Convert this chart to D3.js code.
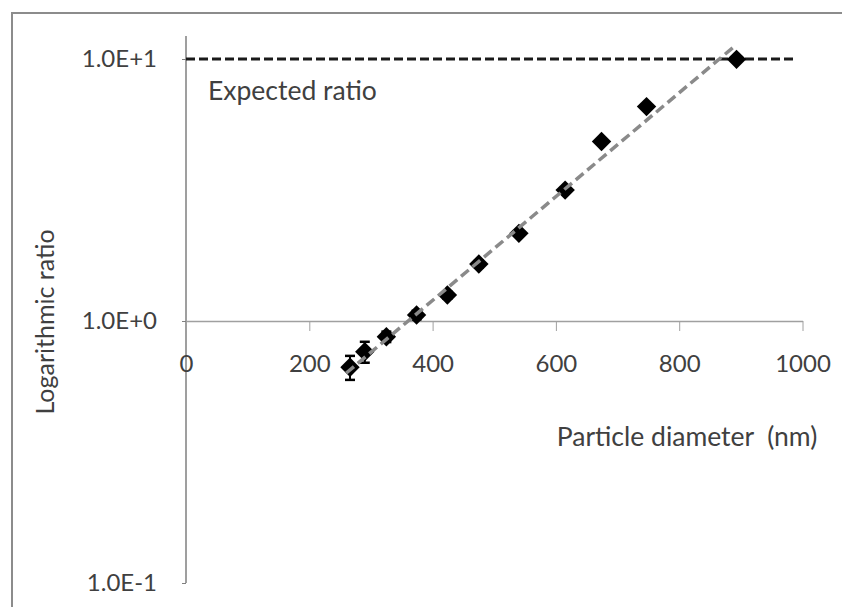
<!DOCTYPE html>
<html>
<head>
<meta charset="utf-8">
<script src="https://cdn.jsdelivr.net/npm/d3@7"></script>
<style>
  body { margin: 0; background: #fff; }
  text { font-family: Lato, "Open Sans", sans-serif; fill: #404040; }
</style>
</head>
<body>
<script>
// measured points (particle diameter in nm, ratio)
var diameters = [266, 290, 325, 374, 424, 475, 540, 615, 674, 747, 893];
var ratios = [0.666, 0.763, 0.871, 1.054, 1.256, 1.65, 2.16, 3.16, 4.84, 6.58, 9.97];
var errors = [0.07, 0.07, 0.04, 0.04, 0.04, 0.05, 0.05, 0.05, 0.05, 0.05, 0.05];

// exponential trend line, end points (straight on a log axis)
var trendX = [260, 888];
var trendY = [0.633, 11.1];

var expectedRatio = 10;
var xTicks = [0, 200, 400, 600, 800, 1000];
var yTicks = [0.1, 1, 10];

var width = 842;
var height = 607;

var svg = d3.select('body')
  .append('svg')
  .attr('width', width)
  .attr('height', height);

//chart frame, runs off the right and bottom edge like the original
svg.append('rect')
  .attr('x', 12)
  .attr('y', 13)
  .attr('width', width)
  .attr('height', height)
  .attr('fill', 'none')
  .attr('stroke', '#8c8c8c')
  .attr('stroke-width', 2);

var x = d3.scaleLinear()
  .domain([0, 1000])
  .range([186, 802.5]);

var y = d3.scaleLog()
  .domain([0.1, 10])
  .range([583, 59]);

var plotTop = 36;

//y axis
var yAxis = svg.append('g')
  .attr('transform', 'translate(' + x(0) + ',0)')
  .call(d3.axisLeft(y)
    .tickValues(yTicks)
    .tickSize(4)
    .tickSizeOuter(0)
    .tickPadding(25)
    .tickFormat(function(d) { return d.toExponential(1).toUpperCase(); }));
yAxis.select('.domain').remove();
yAxis.append('line')
  .attr('y1', plotTop)
  .attr('y2', y(0.1))
  .attr('stroke', '#7f7f7f')
  .attr('stroke-width', 1.5);
yAxis.selectAll('.tick line').attr('stroke', '#7f7f7f');
yAxis.selectAll('text')
  .style('font-size', '24px')
  .attr('fill', '#404040');

//x axis crosses at ratio 1
var xAxis = svg.append('g')
  .attr('transform', 'translate(0,' + y(1) + ')')
  .call(d3.axisBottom(x)
    .tickValues(xTicks)
    .tickSize(10)
    .tickSizeOuter(0)
    .tickPadding(24)
    .tickFormat(d3.format('d')));
xAxis.select('.domain').attr('stroke', '#a0a0a0').attr('stroke-width', 1.5);
xAxis.selectAll('.tick line').attr('stroke', '#a0a0a0');
xAxis.selectAll('text')
  .style('font-size', '24px')
  .attr('fill', '#404040');

//expected ratio line
svg.append('line')
  .attr('x1', x(0))
  .attr('x2', x(990))
  .attr('y1', y(expectedRatio))
  .attr('y2', y(expectedRatio))
  .attr('stroke', '#1a1a1a')
  .attr('stroke-width', 3)
  .attr('stroke-dasharray', '9,4');

svg.append('text')
  .attr('x', 208)
  .attr('y', 100)
  .style('font-size', '26.5px')
  .text('Expected ratio');

//error bars
var bars = svg.selectAll('.err')
  .data(diameters)
  .enter()
  .append('g')
  .attr('class', 'err');
bars.append('line')
  .attr('x1', function(d) { return x(d); })
  .attr('x2', function(d) { return x(d); })
  .attr('y1', function(d, i) { return y(ratios[i] + errors[i]); })
  .attr('y2', function(d, i) { return y(ratios[i] - errors[i]); })
  .attr('stroke', '#000')
  .attr('stroke-width', 2);
[1, -1].forEach(function(s) {
  bars.append('line')
    .attr('x1', function(d) { return x(d) - 5; })
    .attr('x2', function(d) { return x(d) + 5; })
    .attr('y1', function(d, i) { return y(ratios[i] + s * errors[i]); })
    .attr('y2', function(d, i) { return y(ratios[i] + s * errors[i]); })
    .attr('stroke', '#000')
    .attr('stroke-width', 2.5);
});

//data points
var diamond = d3.symbol().type(d3.symbolDiamond2).size(240);
svg.selectAll('.pt')
  .data(diameters)
  .enter()
  .append('path')
  .attr('class', 'pt')
  .attr('d', diamond)
  .attr('transform', function(d, i) { return 'translate(' + x(d) + ',' + y(ratios[i]) + ')'; })
  .attr('fill', '#000');

//trend line
svg.append('line')
  .attr('x1', x(trendX[0]))
  .attr('x2', x(trendX[1]))
  .attr('y1', y(trendY[0]))
  .attr('y2', y(trendY[1]))
  .attr('stroke', '#8a8a8a')
  .attr('stroke-width', 3.5)
  .attr('stroke-dasharray', '10,5');

//axis titles
svg.append('text')
  .attr('x', 687)
  .attr('y', 446)
  .attr('text-anchor', 'middle')
  .style('font-size', '26.5px')
  .attr('xml:space', 'preserve')
  .text('Particle diameter  (nm)');

svg.append('text')
  .attr('transform', 'translate(54,322) rotate(-90)')
  .attr('text-anchor', 'middle')
  .style('font-size', '25px')
  .text('Logarithmic ratio');
</script>
</body>
</html>
